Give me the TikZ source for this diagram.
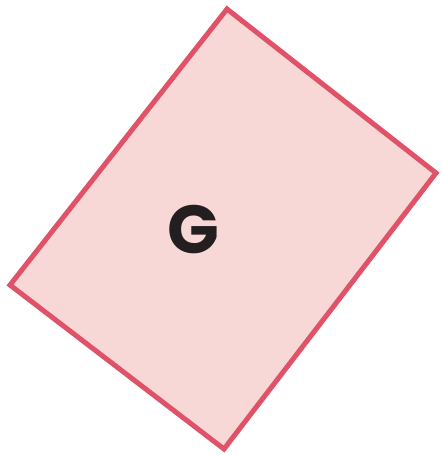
\documentclass[tikz,border=0pt]{standalone}
\usepackage{fontspec}
\setmainfont{Poppins}
\definecolor{edgecol}{HTML}{E05268}
\definecolor{fillcol}{HTML}{F8D8D6}
\definecolor{textcol}{HTML}{231F20}
\tikzset{
  shapebox/.style={draw=edgecol, fill=fillcol, line width=5pt, line join=miter},
  lbl/.style={text=textcol, font=\fontsize{68}{68}\selectfont\bfseries, inner sep=0pt}
}
\begin{document}
\begin{tikzpicture}[x=1pt,y=-1pt]
\useasboundingbox (0,0) rectangle (442,456);
\coordinate (t) at (227,9);
\coordinate (r) at (436,173);
\coordinate (b) at (224,449);
\coordinate (l) at (10,285);
\draw[shapebox] (t) -- (r) -- (b) -- (l) -- cycle;
\node[lbl] (g) at (193,230) {G};
\end{tikzpicture}
\end{document}
